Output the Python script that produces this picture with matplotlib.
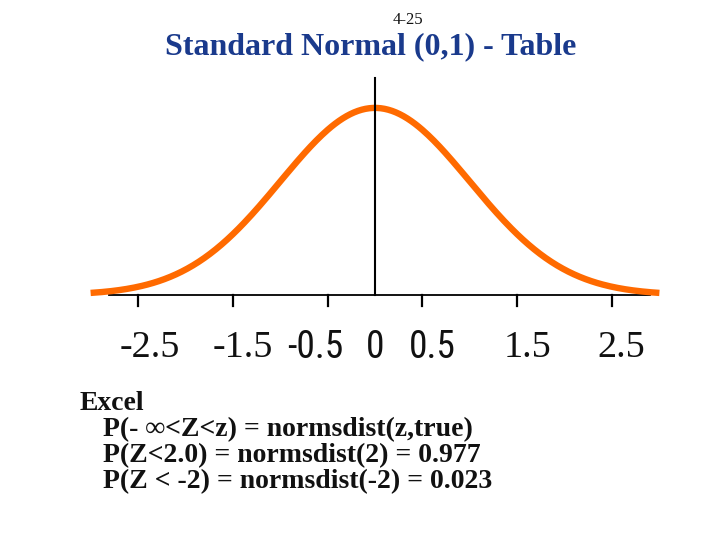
import numpy as np
import matplotlib
matplotlib.use("Agg")
import matplotlib.pyplot as plt
from matplotlib import font_manager

# ---- data ----
z_values = np.linspace(-3.0, 3.0, 301)
pdf_values = np.exp(-z_values ** 2 / 2) / np.sqrt(2 * np.pi)
tick_positions = [-2.5, -1.5, -0.5, 0.5, 1.5, 2.5]
tick_labels = ["-2.5", "-1.5", "-0.5", "0", "0.5", "1.5", "2.5"]
label_x = [-2.38, -1.39, -0.63, 0.0, 0.60, 1.61, 2.60]
label_sans = [False, False, True, True, True, False, False]
title = "Standard Normal (0,1) - Table"
slide_no = "4-25"
body_lines = ["Excel",
              "P(- \u221e<Z<z) = normsdist(z,true)",
              "P(Z<2.0) = normsdist(2) = 0.977",
              "P(Z < -2) = normsdist(-2) = 0.023"]

W, H = 720, 540
fig = plt.figure(figsize=(7.2, 5.4), dpi=100)
fig.patch.set_facecolor("white")

# pixel mapping: z=0 at x=375, 94.8 px per unit; pdf=0 at y=295, 469 px per unit
x0, sx = 375.0, 94.8
y0, sy = 295.0, 469.0
ax = fig.add_axes([0, 0, 1, 1])
ax.set_xlim(-x0 / sx, (W - x0) / sx)
ax.set_ylim(-(H - y0) / sy, y0 / sy)
ax.axis("off")

orange = "#FF6A00"
ax.plot(z_values, pdf_values, color=orange, lw=4.6, solid_capstyle="butt", zorder=3)
# axis line
ax.plot([-2.81, 2.90], [0, 0], color="black", lw=1.3, zorder=2)
# vertical line at 0
ax.plot([0, 0], [0, (y0 - 78) / sy], color="black", lw=1.5, zorder=4)
# ticks
for t in tick_positions:
    ax.plot([t, t], [0, -11 / sy], color="black", lw=1.6, zorder=2)

names = {f.name for f in font_manager.fontManager.ttflist}
narrow = None
for cand in ["Liberation Sans Narrow", "DejaVu Sans Condensed", "Roboto Condensed", "Open Sans Condensed"]:
    if cand in names:
        narrow = cand
        break

label_y = -(348 - y0) / sy
for lx, lab, sans in zip(label_x, tick_labels, label_sans):
    if sans:
        if narrow:
            ax.text(lx, label_y, lab, ha="center", va="center", fontsize=27,
                    family=narrow, color="#111111")
        else:
            ax.text(lx, label_y, lab, ha="center", va="center", fontsize=25,
                    family="Liberation Sans", color="#111111", stretch="condensed")
    else:
        ax.text(lx, label_y, lab, ha="center", va="center", fontsize=27.5,
                family="Liberation Serif", color="#111111")

def fx(px):
    return px / W

def fy(py):
    return 1 - py / H

fig.text(fx(408), fy(20), slide_no, ha="center", va="center", fontsize=12,
         family="Liberation Serif", color="#111111")
fig.text(fx(371), fy(47), title, ha="center", va="center", fontsize=23,
         family="Liberation Serif", fontweight="bold", color="#1A3A8C")

baselines = [410, 436, 462, 488]
lefts = [80, 103, 103, 103]
for txt, bl, lx in zip(body_lines, baselines, lefts):
    fig.text(fx(lx), fy(bl), txt, ha="left", va="baseline", fontsize=20,
             family="Liberation Serif", fontweight="bold", color="#111111")

fig.savefig("out.png", dpi=100, facecolor="white")
